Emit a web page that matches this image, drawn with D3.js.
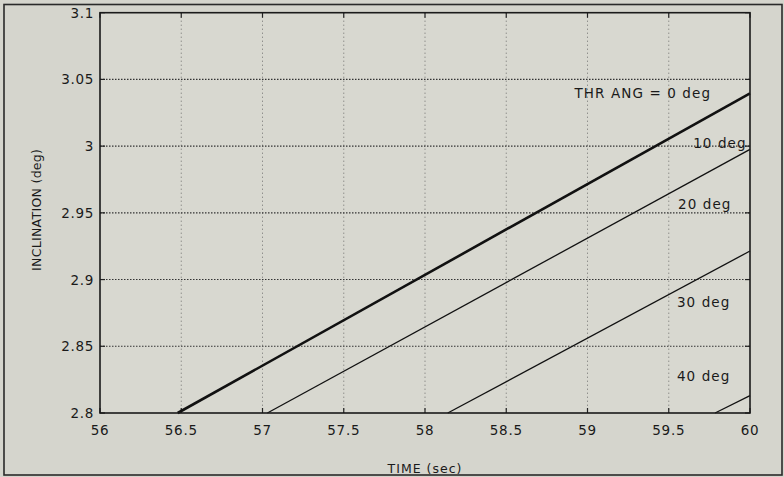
<!DOCTYPE html>
<html>
<head>
<meta charset="utf-8">
<script src="https://cdn.jsdelivr.net/npm/d3@7"></script>
<style>
  html, body { margin: 0; padding: 0; background: #d5d5cd; }
  svg { display: block; }
  text { font-family: "DejaVu Sans", Verdana, sans-serif; fill: #1a1a1a; }
</style>
</head>
<body>
<svg id="chart" width="784" height="477"></svg>
<script>
// Inclination versus time for several thrust angles
const xTicks = [56, 56.5, 57, 57.5, 58, 58.5, 59, 59.5, 60];
const yTicks = [2.8, 2.85, 2.9, 2.95, 3, 3.05, 3.1];
const yTickLabels = ["2.8", "2.85", "2.9", "2.95", "3", "3.05", "3.1"];

// Each trace: time (sec) and inclination (deg) where it enters the window and at t = 60
const lineA = { time: [56.478, 60], incl: [2.8, 3.0396], thick: true };
const lineB = { time: [57.03, 60], incl: [2.8, 2.9976], thick: false };
const lineC = { time: [58.14, 60], incl: [2.8, 2.9214], thick: false };
const lineD = { time: [59.785, 60], incl: [2.8, 2.813], thick: false };
const traces = [lineA, lineB, lineC, lineD];

// Curve annotations: text, time at the label's left edge, inclination at its middle
const noteText = ["THR ANG = 0 deg", "10 deg", "20 deg", "30 deg", "40 deg"];
const noteTime = [58.92, 59.65, 59.557, 59.55, 59.55];
const noteIncl = [3.0398, 3.0027, 2.9566, 2.8832, 2.8281];

const svg = d3.select("#chart");
const m = { left: 100, right: 750, top: 12.7, bottom: 413 };

const x = d3.scaleLinear().domain([56, 60]).range([m.left, m.right]);
const y = d3.scaleLinear().domain([2.8, 3.1]).range([m.bottom, m.top]);

// outer frame
svg.append("rect")
  .attr("x", 4).attr("y", 4.5).attr("width", 778).attr("height", 470.5)
  .attr("fill", "#d5d5cd").attr("stroke", "#2a2a2a").attr("stroke-width", 1.6);

// plot background
svg.append("rect")
  .attr("x", m.left).attr("y", m.top)
  .attr("width", m.right - m.left).attr("height", m.bottom - m.top)
  .attr("fill", "#d8d8d0");

// dotted grid
const grid = svg.append("g");
grid.selectAll("line.gx").data(xTicks.slice(1, -1)).join("line")
  .attr("x1", d => x(d)).attr("x2", d => x(d))
  .attr("y1", m.top).attr("y2", m.bottom)
  .attr("stroke", "#555").attr("stroke-width", 0.8)
  .attr("stroke-dasharray", "1,3");
grid.selectAll("line.gy").data(yTicks.slice(1, -1)).join("line")
  .attr("x1", m.left).attr("x2", m.right)
  .attr("y1", d => y(d)).attr("y2", d => y(d))
  .attr("stroke", "#333").attr("stroke-width", 1.1)
  .attr("stroke-dasharray", "1.5,1.5");

// inner tick marks on all four sides
const tk = svg.append("g").attr("stroke", "#222").attr("stroke-width", 1.2);
xTicks.forEach(d => {
  tk.append("line").attr("x1", x(d)).attr("x2", x(d)).attr("y1", m.bottom).attr("y2", m.bottom - 5);
  tk.append("line").attr("x1", x(d)).attr("x2", x(d)).attr("y1", m.top).attr("y2", m.top + 5);
});
yTicks.forEach(d => {
  tk.append("line").attr("x1", m.left).attr("x2", m.left + 5).attr("y1", y(d)).attr("y2", y(d));
  tk.append("line").attr("x1", m.right).attr("x2", m.right - 5).attr("y1", y(d)).attr("y2", y(d));
});

// traces
const line = d3.line().x(d => x(d[0])).y(d => y(d[1]));
svg.append("g").selectAll("path").data(traces).join("path")
  .attr("d", d => line(d.time.map((t, i) => [t, d.incl[i]])))
  .attr("fill", "none")
  .attr("stroke", "#111")
  .attr("stroke-width", d => d.thick ? 2.6 : 1.3);

// plot border
svg.append("rect")
  .attr("x", m.left).attr("y", m.top)
  .attr("width", m.right - m.left).attr("height", m.bottom - m.top)
  .attr("fill", "none").attr("stroke", "#1a1a1a").attr("stroke-width", 1.6);

// tick labels
svg.append("g").selectAll("text").data(xTicks).join("text")
  .attr("x", d => x(d)).attr("y", m.bottom + 22)
  .attr("text-anchor", "middle").attr("font-size", 13.5)
  .attr("letter-spacing", 0.7)
  .text(d => d);
svg.append("g").selectAll("text").data(yTicks).join("text")
  .attr("x", m.left - 6).attr("y", d => y(d) + 5)
  .attr("text-anchor", "end").attr("font-size", 13.5)
  .attr("letter-spacing", 0.7)
  .text((d, i) => yTickLabels[i]);

// axis titles
svg.append("text")
  .attr("x", 425).attr("y", 473)
  .attr("text-anchor", "middle").attr("font-size", 12.5)
  .attr("letter-spacing", 1)
  .text("TIME (sec)");
svg.append("text")
  .attr("transform", `translate(41,${(m.top + m.bottom) / 2 - 3}) rotate(-90)`)
  .attr("text-anchor", "middle").attr("font-size", 12.5)
  .attr("letter-spacing", 0.3)
  .text("INCLINATION (deg)");

// curve annotations
svg.append("g").selectAll("text").data(noteText).join("text")
  .attr("x", (d, i) => x(noteTime[i])).attr("y", (d, i) => y(noteIncl[i]) + 5)
  .attr("font-size", 13.5)
  .attr("letter-spacing", 1.1)
  .text(d => d);
</script>
</body>
</html>
